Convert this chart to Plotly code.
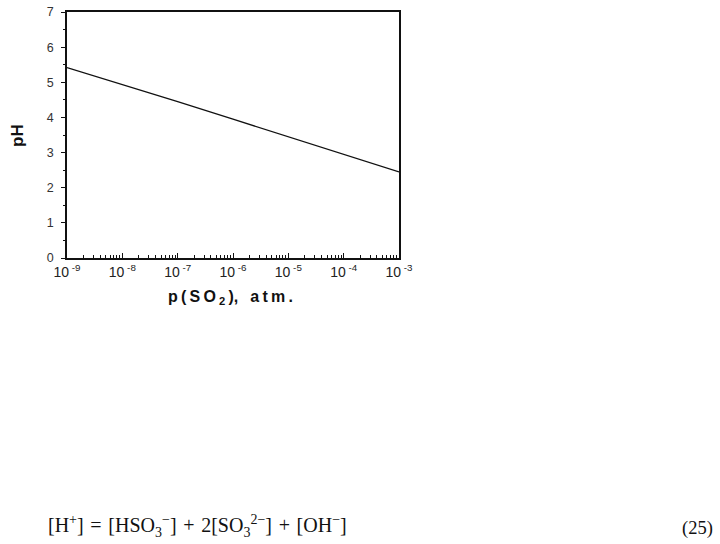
import plotly.graph_objects as go

p_so2 = [1e-9, 1e-8, 1e-7, 1e-6, 1e-5, 1e-4, 1e-3]
ph_values = [5.42, 4.94, 4.45, 3.95, 3.45, 2.96, 2.45]
x_tickvals = [1e-9, 1e-8, 1e-7, 1e-6, 1e-5, 1e-4, 1e-3]
x_ticktext = ["10<sup> -9</sup>", "10<sup> -8</sup>", "10<sup> -7</sup>", "10<sup> -6</sup>",
              "10<sup> -5</sup>", "10<sup> -4</sup>", "10<sup> -3</sup>"]
y_tickvals = [0, 1, 2, 3, 4, 5, 6, 7]

W, H = 720, 544
# plot-area edges on screen
SL, SR, ST, SB = 67, 399, 12, 258
PW, PH = SR - SL, SB - ST


def px(sx):
    return (sx - SL) / PW


def py(sy):
    return (SB - sy) / PH


TS = "\u2009"
xtitle = "<b>p" + TS + "(" + TS + "S" + TS + "O" + TS + "<sub>2</sub>" + TS + ")," + TS + "  " + \
         "a" + TS + "t" + TS + "m" + TS + ".</b>"
SP = "\u2004"
equation = ("[H<sup>+</sup>]" + SP + "=" + SP + "[HSO<sub>3</sub><sup>−</sup>]" + SP + "+" + SP +
            "2[SO<sub>3</sub><sup>2−</sup>]" + SP + "+" + SP + "[OH<sup>−</sup>]")

fig = go.Figure()
fig.add_trace(go.Scatter(x=p_so2, y=ph_values, mode="lines",
                         line=dict(color="#111", width=1.3), showlegend=False))

fig.update_layout(
    width=W, height=H,
    margin=dict(l=SL, r=W - SR, t=ST, b=H - SB, pad=0),
    paper_bgcolor="white", plot_bgcolor="white",
    font=dict(family="Liberation Sans, Arial, sans-serif", color="#222"),
    xaxis=dict(
        type="log", range=[-9, -3], tickvals=x_tickvals, ticktext=x_ticktext,
        automargin=False, ticklabeloverflow="allow",
        showgrid=False, zeroline=False, showline=True, linecolor="#111", linewidth=1.5,
        mirror=True, ticks="inside", ticklen=5, tickwidth=1.2, tickcolor="#111",
        tickfont=dict(size=14, color="#222"),
        minor=dict(ticks="inside", ticklen=3, tickwidth=1, tickcolor="#111",
                   dtick="D1", showgrid=False),
    ),
    yaxis=dict(
        range=[0, 7], tickvals=y_tickvals, automargin=False, ticklabeloverflow="allow",
        showgrid=False, zeroline=False, showline=True, linecolor="#111", linewidth=1.5,
        mirror=True, ticks="outside", ticklen=4, tickwidth=1.2, tickcolor="#111",
        ticklabelstandoff=5,
        tickfont=dict(size=12.5, color="#333"),
        minor=dict(ticks="outside", ticklen=2, tickwidth=1, tickcolor="#111",
                   dtick=0.5, showgrid=False),
    ),
    annotations=[
        dict(text="<b>pH</b>", x=px(17), y=py(135), xref="paper", yref="paper",
             showarrow=False, textangle=-90, font=dict(size=17, color="#111"),
             xanchor="center", yanchor="middle"),
        dict(text=xtitle, x=px(230), y=py(297),
             xref="paper", yref="paper", showarrow=False,
             font=dict(size=16, color="#111"), xanchor="center", yanchor="middle"),
        dict(text=equation,
             x=px(46), y=py(526), xref="paper", yref="paper", showarrow=False,
             font=dict(size=20, family="Liberation Serif, Times New Roman, serif", color="#111"),
             xanchor="left", yanchor="middle"),
        dict(text="(25)", x=px(715), y=py(528), xref="paper", yref="paper", showarrow=False,
             font=dict(size=18.5, family="Liberation Serif, Times New Roman, serif", color="#111"),
             xanchor="right", yanchor="middle"),
    ],
)

fig.write_html("out.html", config={"displayModeBar": False},
               post_script="document.body.style.margin='0';document.body.style.overflow='hidden';")
